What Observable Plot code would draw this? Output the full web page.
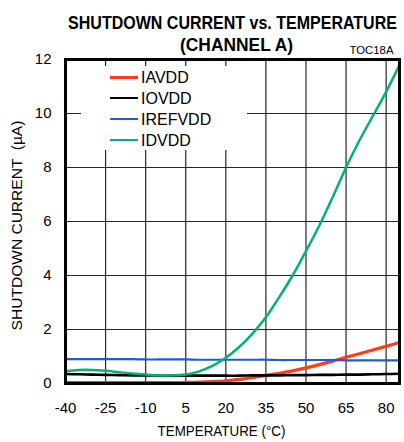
<!DOCTYPE html>
<html><head><meta charset="utf-8">
<script src="https://cdn.jsdelivr.net/npm/d3@7"></script>
<script src="https://cdn.jsdelivr.net/npm/@observablehq/plot@0.6"></script>
<style>
body{margin:0;background:#fff;}
#wrap{position:relative;width:404px;height:442px;font-family:"Liberation Sans",Arial,sans-serif;}
#legend{position:absolute;left:81px;top:66px;width:166px;height:84px;background:#fff;}
.li{position:absolute;left:29px;height:20px;font-size:16px;line-height:20px;white-space:nowrap;}
.li span{display:inline-block;width:28px;height:0;vertical-align:middle;margin-right:3px;position:relative;top:-1px;}
</style></head>
<body><div id="wrap"></div>
<script>
const temps = [-40,-35,-30,-25,-20,-15,-10,-5,0,5,10,15,20,25,30,35,40,45,50,55,60,65,70,75,80,85];
const iavdd = [0.03,0.03,0.03,0.03,0.03,0.03,0.03,0.03,0.035,0.04,0.05,0.07,0.1,0.15,0.22,0.3,0.38,0.47,0.58,0.7,0.83,0.97,1.1,1.24,1.38,1.52];
const iovdd = [0.35,0.34,0.33,0.32,0.31,0.3,0.3,0.29,0.29,0.29,0.29,0.29,0.29,0.29,0.3,0.3,0.3,0.31,0.31,0.32,0.32,0.33,0.33,0.34,0.35,0.36];
const irefvdd = [0.9,0.9,0.9,0.9,0.9,0.9,0.89,0.89,0.89,0.89,0.88,0.88,0.88,0.88,0.88,0.88,0.87,0.87,0.87,0.87,0.87,0.86,0.86,0.86,0.86,0.86];
const idvdd = [0.45,0.5,0.5,0.47,0.42,0.37,0.33,0.3,0.3,0.33,0.45,0.65,0.95,1.35,1.85,2.45,3.2,4.0,4.9,5.85,6.9,8.0,9.0,9.9,10.8,11.8];
const seriesNames = ["IAVDD","IOVDD","IREFVDD","IDVDD"];
const seriesColors = ["#ff3b1a","#000000","#1f5ad8","#00b46e"];
const seriesWidths = [3.2,2.6,2.2,2.5];
const xTicks = [-40,-25,-10,5,20,35,50,65,80];
const yTicks = [0,2,4,6,8,10,12];
const titleLines = ["SHUTDOWN CURRENT vs. TEMPERATURE","(CHANNEL A)"];
const figId = "TOC18A";
const xLabel = "TEMPERATURE (°C)";
const yLabel = "SHUTDOWN CURRENT  (µA)";

const allSeries = [iavdd, iovdd, irefvdd, idvdd];
const rows = [];
allSeries.forEach((vals,i)=>vals.forEach((v,j)=>rows.push({series:seriesNames[i], t:temps[j], v})));

const font = '"Liberation Sans",Arial,sans-serif';
const plot = Plot.plot({
  width:404, height:442,
  marginTop:59, marginBottom:59, marginLeft:65, marginRight:5,
  style:{fontFamily:font, fontSize:"15px", color:"#000", background:"#fff"},
  x:{domain:[-40,85]},
  y:{domain:[0,12]},
  marks:[
    Plot.gridX(xTicks,{stroke:"#000", strokeOpacity:0.85, strokeWidth:1.2}),
    Plot.gridY(yTicks,{stroke:"#000", strokeOpacity:0.85, strokeWidth:1.2}),
    ...seriesNames.map((s,i)=>Plot.line(rows.filter(d=>d.series===s),{x:"t",y:"v",stroke:seriesColors[i],strokeWidth:seriesWidths[i],curve:"catmull-rom"})),
    Plot.frame({stroke:"#000", strokeWidth:3}),
    Plot.axisX(xTicks,{tickSize:0, tickPadding:19, fontSize:15, label:null, tickFormat:d=>String(d)}),
    Plot.axisY(yTicks,{tickSize:0, tickPadding:14, fontSize:15, label:null, tickFormat:d=>String(d)}),
    Plot.text([titleLines[0]],{className:"t1", frameAnchor:"top", textAnchor:"middle", lineAnchor:"middle", dx:0, dy:-37, fontWeight:"bold", fontSize:19, text:d=>d}),
    Plot.text([titleLines[1]],{className:"t2", frameAnchor:"top", textAnchor:"middle", lineAnchor:"middle", dx:4, dy:-15, fontWeight:"bold", fontSize:19, text:d=>d}),
    Plot.text([figId],{className:"t3", frameAnchor:"top-right", lineAnchor:"middle", dx:-6, dy:-9, fontSize:10.5, textAnchor:"end", text:d=>d}),
    Plot.text([xLabel],{className:"xl", frameAnchor:"bottom", textAnchor:"middle", lineAnchor:"middle", dx:-11, dy:48, fontSize:15, text:d=>d}),
    Plot.text([yLabel],{className:"yl", frameAnchor:"left", textAnchor:"middle", lineAnchor:"middle", dx:-48, dy:4, rotate:-90, fontSize:15, text:d=>d})
  ]
});
const wrap = document.getElementById("wrap");
wrap.appendChild(plot);
// condense text horizontally (reference uses a narrow face)
const fit = (cls, len) => d3.select(plot).selectAll(`.${cls} text`).each(function(){
  const w = this.getComputedTextLength();
  const s = len / w;
  const t = this.getAttribute("transform") || "";
  if (t.includes("rotate")) this.setAttribute("transform", t + ` scale(${s},1)`);
  else this.setAttribute("transform", t + ` scale(${s},1)`);
});
fit("t1", 329); fit("t2", 113); fit("t3", 44); fit("xl", 128); fit("yl", 210);
const leg = document.createElement("div");
leg.id="legend";
seriesNames.forEach((s,i)=>{
  const d=document.createElement("div");
  d.className="li"; d.style.top=(1.5+i*21)+"px";
  const sp=document.createElement("span");
  sp.style.borderTop=`${seriesWidths[i]}px solid ${seriesColors[i]}`;
  d.appendChild(sp); d.appendChild(document.createTextNode(s));
  leg.appendChild(d);
});
wrap.appendChild(leg);
</script></body></html>
